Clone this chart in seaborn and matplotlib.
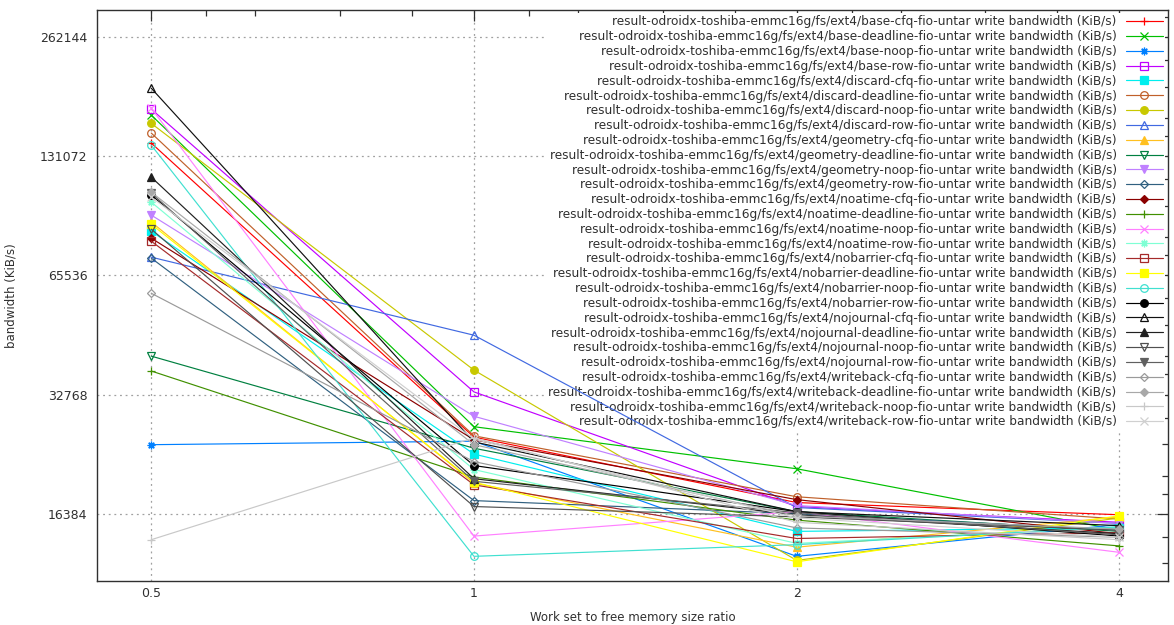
import matplotlib
matplotlib.use("Agg")
import matplotlib.pyplot as plt
from matplotlib.ticker import FixedLocator, NullFormatter
import seaborn as sns

# Work set / free memory ratios on the x axis
ratios = [0.5, 1, 2, 4]

# Mount-option / IO-scheduler configurations, one curve each
configs = [
    "base-cfq", "base-deadline", "base-noop", "base-row",
    "discard-cfq", "discard-deadline", "discard-noop", "discard-row",
    "geometry-cfq", "geometry-deadline", "geometry-noop", "geometry-row",
    "noatime-cfq", "noatime-deadline", "noatime-noop", "noatime-row",
    "nobarrier-cfq", "nobarrier-deadline", "nobarrier-noop", "nobarrier-row",
    "nojournal-cfq", "nojournal-deadline", "nojournal-noop", "nojournal-row",
    "writeback-cfq", "writeback-deadline", "writeback-noop", "writeback-row",
]

# Write bandwidth (KiB/s), one entry per configuration, per ratio
bw_ratio_0_5 = [141500, 166500, 24500, 172400, 84800, 150000, 158700, 72900,
                89400, 41000, 93100, 72500, 81400, 37600, 173300, 100400,
                80000, 88300, 139800, 104600, 194700, 116100, 85800, 105800,
                59100, 106400, 14100, 103400]
bw_ratio_1 = [25600, 27200, 25000, 33300, 23200, 25800, 37800, 46300,
              19600, 24000, 28900, 17700, 25200, 20300, 14400, 21200,
              19400, 19700, 12800, 21700, 24900, 20100, 17100, 19800,
              22200, 24500, 25500, 25300]
bw_ratio_2 = [17500, 21300, 12800, 17100, 14800, 18100, 12500, 17000,
              13500, 16600, 17200, 16400, 17800, 15800, 16600, 13800,
              14200, 12400, 13700, 16600, 16600, 16300, 16100, 16500,
              15100, 16200, 15600, 16000]
bw_ratio_4 = [16300, 14900, 15400, 15600, 15100, 15900, 16000, 15500,
              16100, 14800, 15500, 14900, 14600, 13600, 13100, 15200,
              14700, 16200, 15200, 14400, 15300, 14600, 14900, 14500,
              14300, 15000, 14100, 14300]

y_ticks = [16384, 32768, 65536, 131072, 262144]
x_ticks = [0.5, 1, 2, 4]
x_tick_labels = ["0.5", "1", "2", "4"]

colors = [
    "#ff0000", "#00c000", "#0080ff", "#c000ff",
    "#00eeee", "#c0602a", "#c8c800", "#4169e1",
    "#ffc020", "#008040", "#c080ff", "#306080",
    "#8b0000", "#409000", "#ff80ff", "#7fffd4",
    "#a52a2a", "#ffff00", "#40e0d0", "#000000",
    "#101010", "#202020", "#505050", "#606060",
    "#9a9a9a", "#a8a8a8", "#c8c8c8", "#d0d0d0",
]

# gnuplot-like point type cycle: (marker, filled)
point_types = [
    ("+", True), ("x", True), ((8, 2, 0), True), ("s", False), ("s", True),
    ("o", False), ("o", True), ("^", False), ("^", True), ("v", False),
    ("v", True), ("D", False), ("D", True),
]

sns.set_style("white")
plt.rcParams["font.family"] = ["DejaVu Sans"]

fig = plt.figure(figsize=(11.74, 6.25), dpi=100)
ax = fig.add_axes([97 / 1174, 1 - 581 / 625, (1168 - 97) / 1174, (581 - 10) / 625])

for i, cfg in enumerate(configs):
    vals = [bw_ratio_0_5[i], bw_ratio_1[i], bw_ratio_2[i], bw_ratio_4[i]]
    marker, filled = point_types[i % len(point_types)]
    c = colors[i]
    size = 5.5
    if marker == "D":
        size = 4.2
    sns.lineplot(
        x=ratios, y=vals, ax=ax, color=c, linewidth=0.85,
        marker=marker, markersize=size,
        markerfacecolor=(c if filled else "none"),
        markeredgecolor=c, markeredgewidth=0.9,
        label=f"result-odroidx-toshiba-emmc16g/fs/ext4/{cfg}-fio-untar write bandwidth (KiB/s)",
        errorbar=None, legend=False,
    )

ax.set_xscale("log", base=2)
ax.set_yscale("log", base=2)
ax.set_xlim(0.445, 4.44)
ax.set_ylim(11090, 306800)

ax.xaxis.set_major_locator(FixedLocator(x_ticks))
ax.set_xticklabels(x_tick_labels)
ax.yaxis.set_major_locator(FixedLocator(y_ticks))
ax.set_yticklabels([str(v) for v in y_ticks])

minor_x = [b * f for b in [0.5, 1, 2] for f in (1.125, 1.25, 1.5, 1.75)]
minor_y = [b * f for b in [8192, 16384, 32768, 65536, 131072, 262144]
           for f in (1.125, 1.25, 1.5, 1.75)]
ax.xaxis.set_minor_locator(FixedLocator(minor_x))
ax.yaxis.set_minor_locator(FixedLocator(minor_y))
ax.xaxis.set_minor_formatter(NullFormatter())
ax.yaxis.set_minor_formatter(NullFormatter())

ax.tick_params(which="both", direction="in", top=True, right=True,
               colors="#303030", labelcolor="#303030", labelsize=9)
ax.tick_params(which="major", length=8, width=0.9)
ax.tick_params(axis="y", which="major", pad=7)
ax.tick_params(axis="x", which="major", pad=4)
ax.tick_params(which="minor", length=4, width=0.9)

ax.set_axisbelow(True)
ax.grid(True, which="major", color="#a0a0a0", linestyle=(0, (1.5, 3)), linewidth=0.9)
for s in ax.spines.values():
    s.set_color("#303030")
    s.set_linewidth(1.0)

ax.set_xlabel("Work set to free memory size ratio", fontsize=8.5, color="#303030", labelpad=8)
ax.set_ylabel("bandwidth (KiB/s)", fontsize=8.5, color="#303030")
ax.yaxis.set_label_coords((18 - 97) / 1071, 0.5)

handles, labels = ax.get_legend_handles_labels()
leg = ax.legend(handles, labels, loc="upper right", markerfirst=False,
                fontsize=8.7, frameon=True, framealpha=1.0, edgecolor="none",
                facecolor="white", fancybox=False, borderaxespad=0.25,
                borderpad=0.2, labelspacing=0.15, handlelength=3.0,
                handletextpad=0.8)
# key box sits above the grid but beneath the data curves
leg.set_zorder(1)
for t in leg.get_texts():
    t.set_color("#303030")

fig.savefig("out.png", dpi=100)
